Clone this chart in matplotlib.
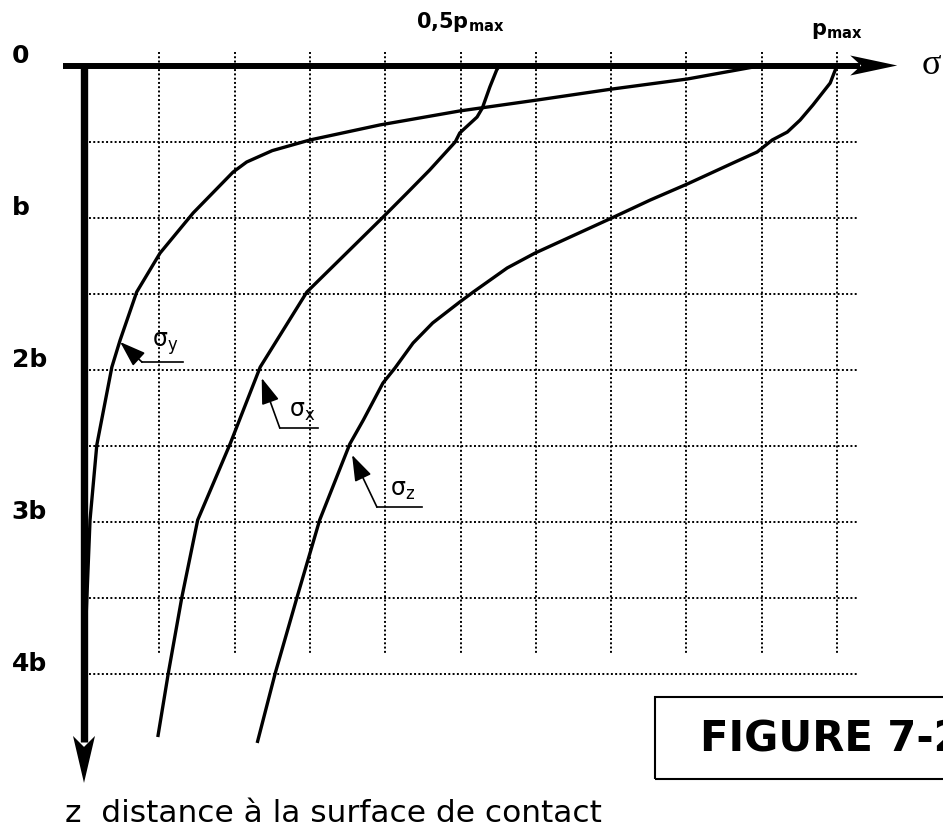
import numpy as np
import matplotlib
matplotlib.use('Agg')
import matplotlib.pyplot as plt
from matplotlib.patches import Rectangle

# stresses below the contact, sigma in units of p_max, depth z in units of b
sigma_y_s = [0.900, 0.801, 0.701, 0.602, 0.499, 0.393, 0.300, 0.250, 0.216, 0.198, 0.145,
	0.101, 0.070, 0.048, 0.037, 0.017, 0.008, 0.003]
sigma_y_z = [0.000, 0.089, 0.155, 0.227, 0.299, 0.391, 0.490, 0.560, 0.635, 0.701, 0.970,
	1.234, 1.490, 1.806, 1.984, 2.497, 2.990, 3.600]

sigma_x_s = [0.552, 0.548, 0.539, 0.529, 0.522, 0.499, 0.493, 0.459, 0.429, 0.396,
	0.296, 0.234, 0.194, 0.151, 0.130, 0.112, 0.098]
sigma_x_z = [0.000, 0.030, 0.141, 0.280, 0.339, 0.444, 0.503, 0.688, 0.839, 1.003,
	1.490, 1.984, 2.490, 2.990, 3.497, 3.997, 4.418]

sigma_z_s = [1.000, 0.991, 0.968, 0.951, 0.934, 0.914, 0.894, 0.862, 0.801, 0.752,
	0.701, 0.599, 0.562, 0.517, 0.499, 0.463, 0.437, 0.413, 0.397, 0.371,
	0.353, 0.313, 0.283, 0.254, 0.230]
sigma_z_z = [0.000, 0.115, 0.260, 0.359, 0.438, 0.490, 0.569, 0.641, 0.780, 0.885,
	1.003, 1.234, 1.332, 1.490, 1.556, 1.694, 1.826, 1.990, 2.089, 2.332,
	2.490, 2.990, 3.497, 3.997, 4.457]

depth_ticks = [0, 1, 2, 3, 4]
depth_labels = ["0", "b", "2b", "3b", "4b"]
grid_s = [0.1, 0.2, 0.3, 0.4, 0.5, 0.6, 0.7, 0.8, 0.9, 1.0]
grid_z = [0.5, 1.0, 1.5, 2.0, 2.5, 3.0, 3.5, 4.0]

W, H = 943, 834
X0, SX = 84.0, 753.0   # pixel of sigma=0, pixels per p_max
Y0, SY = 65.5, 152.0   # pixel of z=0, pixels per b


def arrow_head(ax, tip, direction, length, half_width, notch):
	# stealth-like filled head, sizes given in pixels
	tx, ty = tip
	if direction == 'right':
		L, w, n = length / SX, half_width / SY, notch / SX
		xs = [tx, tx - L, tx - L + n, tx - L]
		ys = [ty, ty - w, ty, ty + w]
	else:
		L, w, n = length / SY, half_width / SX, notch / SY
		xs = [tx, tx - w, tx, tx + w]
		ys = [ty, ty - L, ty - L + n, ty - L]
	ax.fill(xs, ys, color='black', lw=0, zorder=5)


def draw():
	plt.rcParams['mathtext.fontset'] = 'dejavusans'
	plt.rcParams['mathtext.default'] = 'regular'
	fig = plt.figure(figsize=(W / 100.0, H / 100.0), dpi=100)
	ax = fig.add_axes([0, 0, 1, 1])
	ax.set_xlim(-X0 / SX, (W - X0) / SX)
	ax.set_ylim((H - Y0) / SY, -Y0 / SY)
	ax.axis('off')

	dots = (0, (1, 1.2))
	for s in grid_s:
		ax.plot([s, s], [-0.09, 3.88], color='black', lw=1.4, ls=dots)
	for z in grid_z:
		ax.plot([0.006, 1.028], [z, z], color='black', lw=1.4, ls=dots)

	# axes with arrows
	ax.plot([-0.028, 1.03], [0, 0], color='black', lw=4.3, solid_capstyle='butt', zorder=4)
	arrow_head(ax, (1.080, 0.0), 'right', 47, 10, 11)
	ax.plot([0, 0], [0, 4.45], color='black', lw=5.3, solid_capstyle='butt', zorder=4)
	arrow_head(ax, (0.0, 4.72), 'down', 47, 11, 11)

	for s, z in [(sigma_y_s, sigma_y_z), (sigma_x_s, sigma_x_z), (sigma_z_s, sigma_z_z)]:
		ax.plot(s, z, color='black', lw=2.4, solid_joinstyle='round', solid_capstyle='butt', zorder=3)

	# curve names with leader arrows
	leaders = [
		(r'$σ_y$', (0.048, 1.819), (0.077, 1.951), 0.131),
		(r'$σ_x$', (0.236, 2.056), (0.260, 2.385), 0.311),
		(r'$σ_z$', (0.356, 2.562), (0.389, 2.905), 0.449),
	]
	for name, tip, elbow, end in leaders:
		ax.annotate('', xy=tip, xytext=elbow,
			arrowprops=dict(arrowstyle='-|>,head_length=1.6,head_width=0.55',
				color='black', lw=1.2, shrinkA=0, shrinkB=0))
		ax.plot([elbow[0], end], [elbow[1], elbow[1]], color='black', lw=1.2)
		ax.text((elbow[0] + end) / 2 + 0.004, elbow[1] - 0.03, name, ha='center', va='bottom', fontsize=17)

	for z, lab in zip(depth_ticks, depth_labels):
		ax.text(-0.096, z - 0.06, lab, ha='left', va='center', fontsize=18, fontweight='bold')

	ax.text(0.5, -0.245, r'0,5$\mathbf{p}_{\mathbf{max}}$', ha='center', va='baseline', fontsize=15, fontweight='bold')
	ax.text(1.0, -0.2, r'$\mathbf{p}_{\mathbf{max}}$', ha='center', va='baseline', fontsize=15, fontweight='bold')
	ax.text(1.125, 0.0, 'σ', ha='center', va='center', fontsize=26, family='Liberation Serif')

	fig.text(65.0 / W, 1 - 822.0 / H, 'z  distance à la surface de contact', ha='left', va='baseline', fontsize=22.5)

	fig.patches.append(Rectangle((655.0 / W, 1 - 779.0 / H), 0.33, 82.0 / H,
		transform=fig.transFigure, fill=False, lw=1.5, edgecolor='black'))
	fig.text(700.0 / W, 1 - 740.0 / H, 'FIGURE 7-2', ha='left', va='center', fontsize=30, fontweight='bold')

	plt.savefig('out.png', dpi=100)


def main():
	draw()


if __name__ == "__main__":
	main()
